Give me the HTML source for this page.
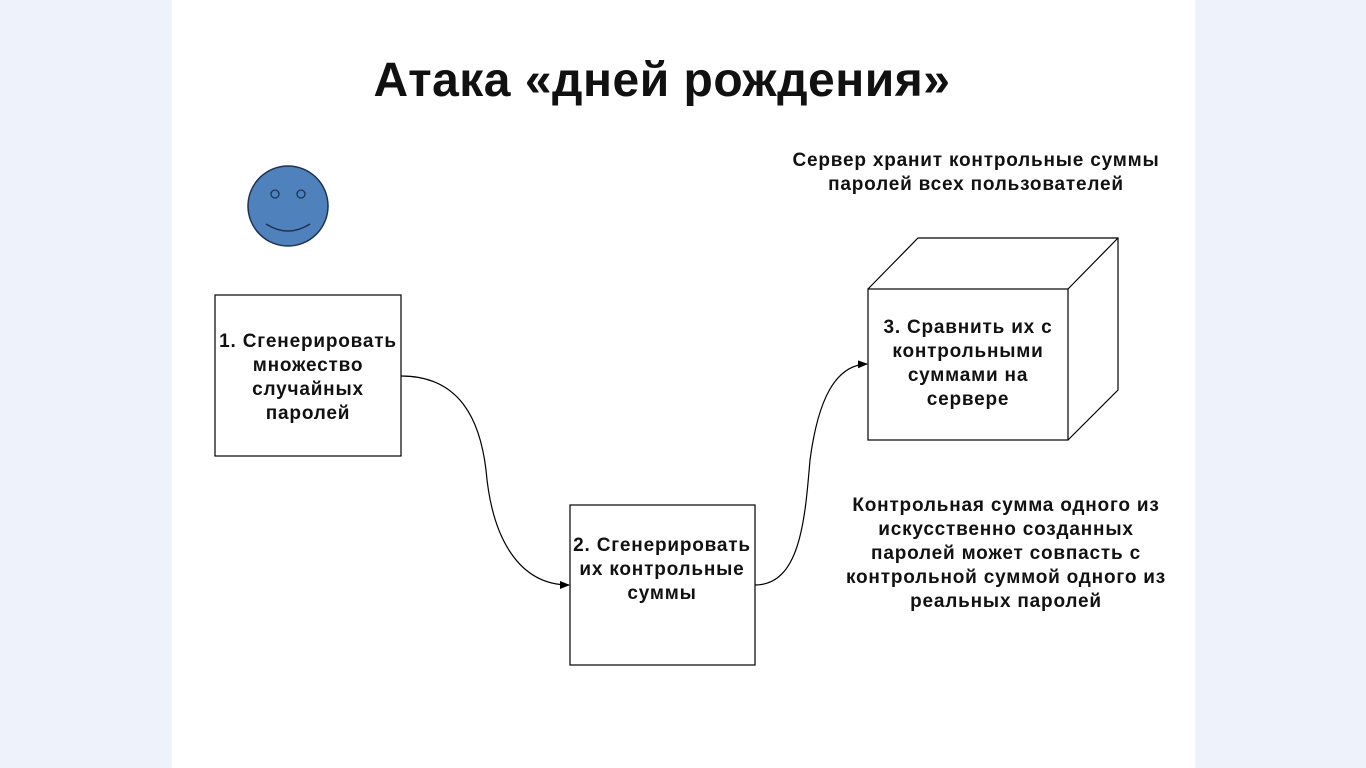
<!DOCTYPE html>
<html><head><meta charset="utf-8"><style>
body{margin:0;width:1366px;height:768px;background:#eef3fb;overflow:hidden;font-family:"Liberation Sans",sans-serif;}
.slide{position:absolute;left:172px;top:0;width:1023px;height:768px;background:#fff;}
.t{position:absolute;font-weight:bold;color:#111;text-align:center;font-size:19px;letter-spacing:0.8px;line-height:24px;white-space:nowrap;}
</style></head><body>
<div class="slide"></div>
<svg width="1366" height="768" style="position:absolute;left:0;top:0">
<defs><marker id="a" markerWidth="10" markerHeight="8" refX="9" refY="4" orient="auto" markerUnits="userSpaceOnUse"><path d="M0,0 L10,4 L0,8 z" fill="#000"/></marker></defs>
<circle cx="288" cy="206" r="40" fill="#4f81bd" stroke="#1f3350" stroke-width="1.5"/>
<circle cx="275" cy="194" r="4" fill="#4f81bd" stroke="#1f3350" stroke-width="1.3"/>
<circle cx="301" cy="194" r="4" fill="#4f81bd" stroke="#1f3350" stroke-width="1.3"/>
<path d="M266,224 Q288,238 310,224" fill="none" stroke="#1f3350" stroke-width="1.5"/>
<rect x="215" y="295" width="186" height="161" fill="#fff" stroke="#000" stroke-width="1.2"/>
<rect x="570" y="505" width="185" height="160" fill="#fff" stroke="#000" stroke-width="1.2"/>
<path d="M868,289 L918,238 L1118,238 L1118,390 L1068,440 M1068,289 L1118,238" fill="#fff" stroke="#000" stroke-width="1.2"/>
<rect x="868" y="289" width="200" height="151" fill="#fff" stroke="#000" stroke-width="1.2"/>
<path d="M401,376 C460,376 480,420 486,470 C492,540 520,585 569,585" fill="none" stroke="#000" stroke-width="1.2" marker-end="url(#a)"/>
<path d="M755,585 C800,585 805,520 810,460 C818,400 835,365 867,364" fill="none" stroke="#000" stroke-width="1.2" marker-end="url(#a)"/>
</svg>
<div class="t" style="left:262px;top:53px;width:800px;font-size:48px;letter-spacing:0.5px;line-height:56px;">Атака «дней рождения»</div>
<div class="t" style="left:208px;top:330px;width:200px;">1. Сгенерировать<br>множество<br>случайных<br>паролей</div>
<div class="t" style="left:562px;top:534px;width:200px;">2. Сгенерировать<br>их контрольные<br>суммы</div>
<div class="t" style="left:858px;top:316px;width:220px;">3. Сравнить их с<br>контрольными<br>суммами на<br>сервере</div>
<div class="t" style="left:776px;top:149px;width:400px;">Сервер хранит контрольные суммы<br>паролей всех пользователей</div>
<div class="t" style="left:806px;top:494px;width:400px;">Контрольная сумма одного из<br>искусственно созданных<br>паролей может совпасть с<br>контрольной суммой одного из<br>реальных паролей</div>
</body></html>
